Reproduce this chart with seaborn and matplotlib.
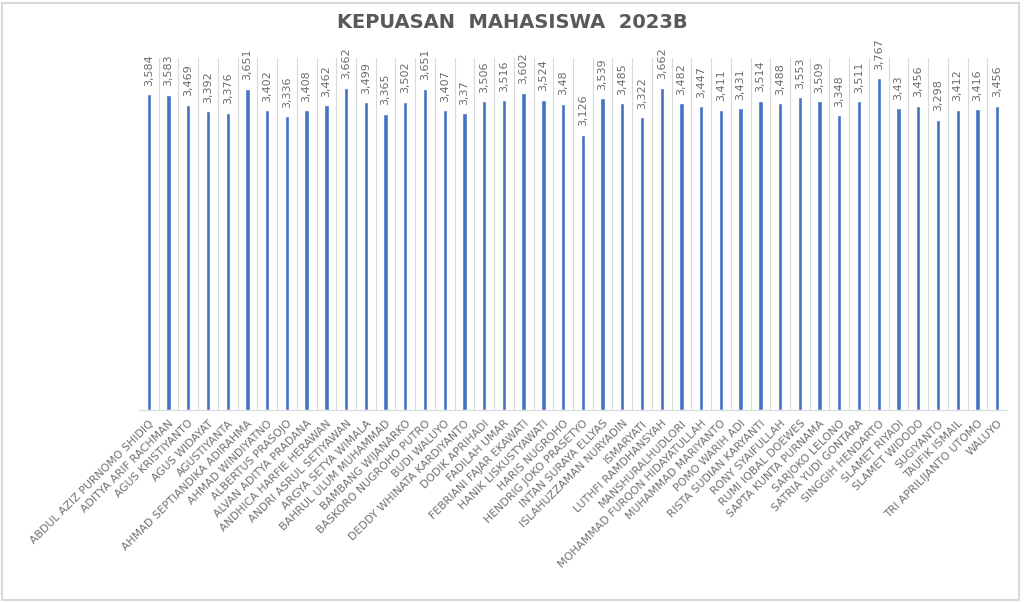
import matplotlib
matplotlib.use("Agg")
import matplotlib.pyplot as plt
import matplotlib.patches as mpatches
import pandas as pd
import seaborn as sns

names = [
    "ABDUL AZIZ PURNOMO SHIDIQ", "ADITYA ARIF RACHMAN", "AGUS KRISTIYANTO",
    "AGUS WIDAYAT", "AGUSTIYANTA", "AHMAD SEPTIANDIKA ADIRAHMA",
    "AHMAD WINDIYATNO", "ALBERTUS PRASOJO", "ALVAN ADITYA PRADANA",
    "ANDHICA HARFIE HERAWAN", "ANDRI ASRUL SETIYAWAN", "ARGYA SETYA WIMALA",
    "BAHRUL ULUM MUHAMMAD", "BAMBANG WIJANARKO", "BASKORO NUGROHO PUTRO",
    "BUDI WALUYO", "DEDDY WHINATA KARDIYANTO", "DODIK APRIHADI",
    "FADILAH UMAR", "FEBRIANI FAJAR EKAWATI", "HANIK LISKUSTYAWATI",
    "HARIS NUGROHO", "HENDRIG JOKO PRASETYO", "INTAN SURAYA ELLYAS",
    "ISLAHUZZAMAN NURYADIN", "ISMARYATI", "LUTHFI RAMDHANSYAH",
    "MANSHURALHUDLORI", "MOHAMMAD FURQON HIDAYATULLAH", "MUHAMMAD MARIYANTO",
    "POMO WARIH ADI", "RISTA SUDIAN KARYANTI", "RONY SYAIFULLAH",
    "RUMI IQBAL DOEWES", "SAPTA KUNTA PURNAMA", "SARJOKO LELONO",
    "SATRIA YUDI GONTARA", "SINGGIH HENDARTO", "SLAMET RIYADI",
    "SLAMET WIDODO", "SUGIYANTO", "TAUFIK ISMAIL",
    "TRI APRILIJANTO UTOMO", "WALUYO",
]
nilai = [
    3.584, 3.583, 3.469, 3.392, 3.376, 3.651, 3.402, 3.336, 3.408, 3.462,
    3.662, 3.499, 3.365, 3.502, 3.651, 3.407, 3.37, 3.506, 3.516, 3.602,
    3.524, 3.48, 3.126, 3.539, 3.485, 3.322, 3.662, 3.482, 3.447, 3.411,
    3.431, 3.514, 3.488, 3.553, 3.509, 3.348, 3.511, 3.767, 3.43, 3.456,
    3.298, 3.412, 3.416, 3.456,
]

df = pd.DataFrame({"nama": names, "nilai": nilai})

sns.set_style("white")
plt.rcParams["font.family"] = ["DejaVu Sans"]

fig = plt.figure(figsize=(10.24, 6.02), dpi=100)
ax = fig.add_axes([0.1357, 0.319, 0.8477, 0.585])

sns.barplot(data=df, x="nama", y="nilai", color="#4472C4", width=0.22,
            saturation=1, ax=ax)

ax.set_ylim(0, 4)
ax.set_xlim(-0.5, len(names) - 0.5)

# garis pemisah kategori
ax.set_xticks([i + 0.5 for i in range(len(names) - 1)], minor=True)
ax.grid(axis="x", which="minor", color="#d9d9d9", linewidth=0.8)
ax.grid(axis="x", which="major", visible=False)
ax.set_axisbelow(True)
ax.tick_params(axis="x", which="both", length=0, pad=6)

for s in ["top", "right", "left"]:
    ax.spines[s].set_visible(False)
ax.spines["bottom"].set_color("#d9d9d9")
ax.set_yticks([])
ax.set_xlabel("")
ax.set_ylabel("")

ax.set_xticks(range(len(names)))
ax.set_xticklabels(names, rotation=45, ha="right", va="top",
                   rotation_mode="anchor", fontsize=7.8, color="#707070")

labels = [f"{v:g}".replace(".", ",") for v in nilai]
ax.bar_label(ax.containers[0], labels=labels, rotation=90, padding=6,
             fontsize=8, color="#6b6b6b")

fig.text(0.5, 0.962, "KEPUASAN  MAHASISWA  2023B", ha="center", va="center",
         fontsize=14, fontweight="bold", color="#595959")

fig.patches.append(mpatches.Rectangle((0.002, 0.003), 0.993, 0.992,
                                      transform=fig.transFigure, fill=False,
                                      edgecolor="#d9d9d9", linewidth=1.5))

fig.savefig("out.png", dpi=100)
